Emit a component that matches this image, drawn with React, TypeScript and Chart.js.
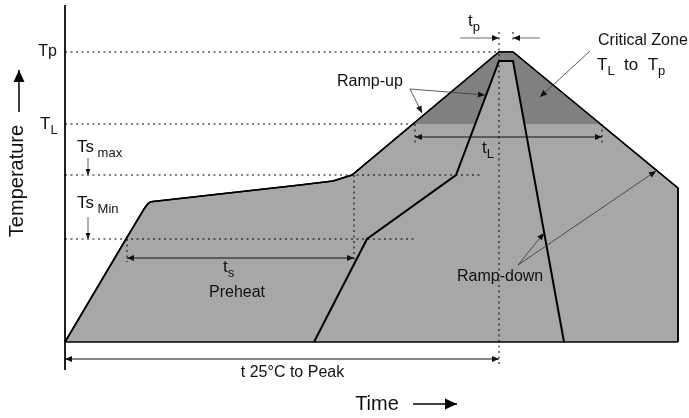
import React, { useEffect, useRef } from "react";
import { Chart, registerables } from "chart.js";

Chart.register(...registerables);

// ---- Data (diagram units: time from origin, temperature above 25°C baseline) ----
const outerTime = [0, 61, 79, 81.5, 83.5, 85.5, 88, 235, 268, 287, 434, 448, 613, 613];
const outerTemp = [0, 103, 133, 136.5, 138.8, 140, 140.6, 157, 161, 167, 290, 290, 154, 0];

const zoneTime = [348, 434, 448, 535.4];
const zoneTemp = [218, 290, 290, 218];

const innerTime = [249, 302, 391, 434, 448, 499];
const innerTemp = [0, 103, 167, 281, 281, 0];

const baseTime = [0, 613];
const baseTemp = [0, 0];

const TP = 290;
const TL = 218;
const TSMAX = 167;
const TSMIN = 103;

// reference (dotted) lines: [t1, T1, t2, T2]
const dottedLines = [
  [0, TP, 434, TP],
  [0, TL, 345, TL],
  [0, TSMAX, 418, TSMAX],
  [0, TSMIN, 350, TSMIN],
  [289, TSMAX, 289, 80],
  [62, TSMIN, 62, 80],
  [434, 310, 434, -23],
  [448, 310, 448, 300],
  [350, TL, 350, 197],
  [537, TL, 537, 197],
];

// axis line
const axisTime = [0, 0];
const axisTemp = [337, -28];

// dimension arrows (both heads): [t1, T1, t2, T2]
const dimArrows = [
  [62, 84, 289, 84],
  [350, 205, 537, 205],
  [0, -17, 434, -17],
];
// single-head arrows (head at the second point)
const tpArrows = [
  [395, 304, 434, 304],
  [475, 304, 448, 304],
];
const pointerArrows = [
  [345, 253, 420, 247],
  [345, 253, 357, 229],
  [453, 77, 479, 109],
  [453, 77, 591, 171],
  [525, 291, 475, 245],
];
const smallArrows = [
  [23, 184, 23, TSMAX],
  [23, 125, 23, TSMIN],
];
const axisArrows = [
  [-46, 230, -46, 272],
  [348, -62, 392, -62],
];

// labels: parts, anchor time, anchor temperature, align
type Part = { s: string; sub?: boolean };
const richLabels: { parts: Part[]; t: number; T: number; align: CanvasTextAlign }[] = [
  { parts: [{ s: "Tp" }], t: -8, T: 290, align: "right" },
  { parts: [{ s: "T" }, { s: "L", sub: true }], t: -25, T: 218, align: "left" },
  { parts: [{ s: "Ts" }, { s: " max", sub: true }], t: 12, T: 195, align: "left" },
  { parts: [{ s: "Ts" }, { s: " Min", sub: true }], t: 12, T: 139, align: "left" },
  { parts: [{ s: "Critical Zone" }], t: 533, T: 301, align: "left" },
  {
    parts: [{ s: "T" }, { s: "L", sub: true }, { s: "  to  " }, { s: "T" }, { s: "p", sub: true }],
    t: 532,
    T: 277,
    align: "left",
  },
  { parts: [{ s: "Ramp-up" }], t: 272, T: 260, align: "left" },
  { parts: [{ s: "Ramp-down" }], t: 392, T: 65, align: "left" },
  { parts: [{ s: "t" }, { s: "s", sub: true }], t: 158, T: 75, align: "left" },
  { parts: [{ s: "Preheat" }], t: 172, T: 49, align: "center" },
  { parts: [{ s: "t" }, { s: "L", sub: true }], t: 417, T: 194, align: "left" },
  { parts: [{ s: "t" }, { s: "p", sub: true }], t: 403, T: 321, align: "left" },
  { parts: [{ s: "t 25°C to Peak" }], t: 227.5, T: -31, align: "center" },
];
const axisTitleX = { text: "Time", t: 312, T: -62 };
const axisTitleY = { text: "Temperature", t: -48, T: 161 };

const FONT = '"Liberation Sans", Arial, Helvetica, sans-serif';

function seg(ts: number[], temps: number[]) {
  return ts.map((t, i) => ({ x: t, y: temps[i] }));
}

function head(ctx: CanvasRenderingContext2D, x1: number, y1: number, x2: number, y2: number, len: number, w: number) {
  const a = Math.atan2(y2 - y1, x2 - x1);
  ctx.beginPath();
  ctx.moveTo(x2, y2);
  ctx.lineTo(x2 - len * Math.cos(a) + w * Math.sin(a), y2 - len * Math.sin(a) - w * Math.cos(a));
  ctx.lineTo(x2 - len * Math.cos(a) - w * Math.sin(a), y2 - len * Math.sin(a) + w * Math.cos(a));
  ctx.closePath();
  ctx.fill();
}

const annotPlugin = {
  id: "annot",
  afterDatasetsDraw(chart: any) {
    const ctx: CanvasRenderingContext2D = chart.ctx;
    const X = (t: number) => chart.scales.x.getPixelForValue(t);
    const Y = (v: number) => chart.scales.y.getPixelForValue(v);
    ctx.save();

    const line = (a: number[], color: string, width: number) => {
      ctx.strokeStyle = color;
      ctx.lineWidth = width;
      ctx.beginPath();
      ctx.moveTo(X(a[0]), Y(a[1]));
      ctx.lineTo(X(a[2]), Y(a[3]));
      ctx.stroke();
    };

    ctx.fillStyle = "#111";
    dimArrows.forEach((a) => {
      line(a, "#111", 1);
      head(ctx, X(a[0]), Y(a[1]), X(a[2]), Y(a[3]), 7, 3);
      head(ctx, X(a[2]), Y(a[3]), X(a[0]), Y(a[1]), 7, 3);
    });
    tpArrows.forEach((a) => {
      line(a, "#444", 0.8);
      ctx.fillStyle = "#111";
      head(ctx, X(a[0]), Y(a[1]), X(a[2]), Y(a[3]), 7, 3);
    });
    pointerArrows.forEach((a) => {
      line(a, "#333", 0.8);
      ctx.fillStyle = "#111";
      head(ctx, X(a[0]), Y(a[1]), X(a[2]), Y(a[3]), 7, 3);
    });
    smallArrows.forEach((a) => {
      line(a, "#333", 0.8);
      ctx.fillStyle = "#111";
      head(ctx, X(a[0]), Y(a[1]), X(a[2]), Y(a[3]), 6, 2.5);
    });
    axisArrows.forEach((a) => {
      line(a, "#000", 1.5);
      ctx.fillStyle = "#000";
      head(ctx, X(a[0]), Y(a[1]), X(a[2]), Y(a[3]), 12, 5.5);
    });

    // rich labels
    ctx.fillStyle = "#111";
    ctx.textBaseline = "middle";
    richLabels.forEach((lb) => {
      const single = lb.parts.length === 1;
      const sizeOf = (p: Part) => (p.sub ? 13 : single ? 16 : 17);
      const widths = lb.parts.map((p) => {
        ctx.font = `${sizeOf(p)}px ${FONT}`;
        return ctx.measureText(p.s).width;
      });
      const total = widths.reduce((s, w) => s + w, 0);
      let x = X(lb.t);
      if (lb.align === "right") x -= total;
      else if (lb.align === "center") x -= total / 2;
      const y = Y(lb.T);
      ctx.textAlign = "left";
      lb.parts.forEach((p, i) => {
        ctx.font = `${sizeOf(p)}px ${FONT}`;
        ctx.fillText(p.s, x, p.sub ? y + 6 : y);
        x += widths[i];
      });
    });

    ctx.font = `20px ${FONT}`;
    ctx.textAlign = "center";
    ctx.fillText(axisTitleX.text, X(axisTitleX.t), Y(axisTitleX.T));
    ctx.save();
    ctx.translate(X(axisTitleY.t), Y(axisTitleY.T));
    ctx.rotate(-Math.PI / 2);
    ctx.fillText(axisTitleY.text, 0, 0);
    ctx.restore();

    ctx.restore();
  },
};

export default function App() {
  const ref = useRef<HTMLCanvasElement>(null);
  useEffect(() => {
    if (!ref.current) return;
    const light = "#a7a7a7";
    const dark = "#808080";
    const base = { showLine: true, pointRadius: 0, pointHoverRadius: 0, tension: 0 };
    const datasets: any[] = [
      {
        ...base,
        data: seg(outerTime, outerTemp),
        borderColor: "#000",
        borderWidth: 1.5,
        backgroundColor: light,
        fill: "origin",
        order: 10,
      },
      {
        ...base,
        data: seg(zoneTime, zoneTemp),
        borderWidth: 0,
        borderColor: "rgba(0,0,0,0)",
        backgroundColor: dark,
        fill: { value: TL },
        order: 9,
      },
      {
        ...base,
        data: seg(outerTime, outerTemp),
        borderColor: "#000",
        borderWidth: 1.5,
        fill: false,
        order: 8.5,
      },
      {
        ...base,
        data: seg(innerTime, innerTemp),
        borderColor: "#000",
        borderWidth: 2,
        backgroundColor: light,
        fill: "origin",
        order: 8,
      },
      {
        ...base,
        data: seg(baseTime, baseTemp),
        borderColor: "#000",
        borderWidth: 1.5,
        fill: false,
        order: 7,
      },
      ...dottedLines.map((d) => ({
        ...base,
        data: [
          { x: d[0], y: d[1] },
          { x: d[2], y: d[3] },
        ],
        borderColor: "#000",
        borderWidth: 1,
        borderDash: [2, 3.5],
        fill: false,
        order: 5,
      })),
      {
        ...base,
        data: seg(axisTime, axisTemp),
        borderColor: "#000",
        borderWidth: 1,
        fill: false,
        order: 4,
      },
    ];
    const chart = new Chart(ref.current, {
      type: "scatter",
      data: { datasets },
      options: {
        animation: false,
        responsive: false,
        maintainAspectRatio: false,
        devicePixelRatio: 1,
        events: [],
        layout: { padding: 0 },
        plugins: { legend: { display: false }, tooltip: { enabled: false } },
        scales: {
          x: { type: "linear", min: -65, max: 624, display: false },
          y: { type: "linear", min: -76, max: 342, display: false },
        },
      },
      plugins: [annotPlugin],
    });
    return () => chart.destroy();
  }, []);
  return (
    <div style={{ position: "fixed", left: 0, top: 0, width: 689, height: 418, background: "#fff" }}>
      <canvas ref={ref} width={689} height={418} style={{ display: "block" }} />
    </div>
  );
}
